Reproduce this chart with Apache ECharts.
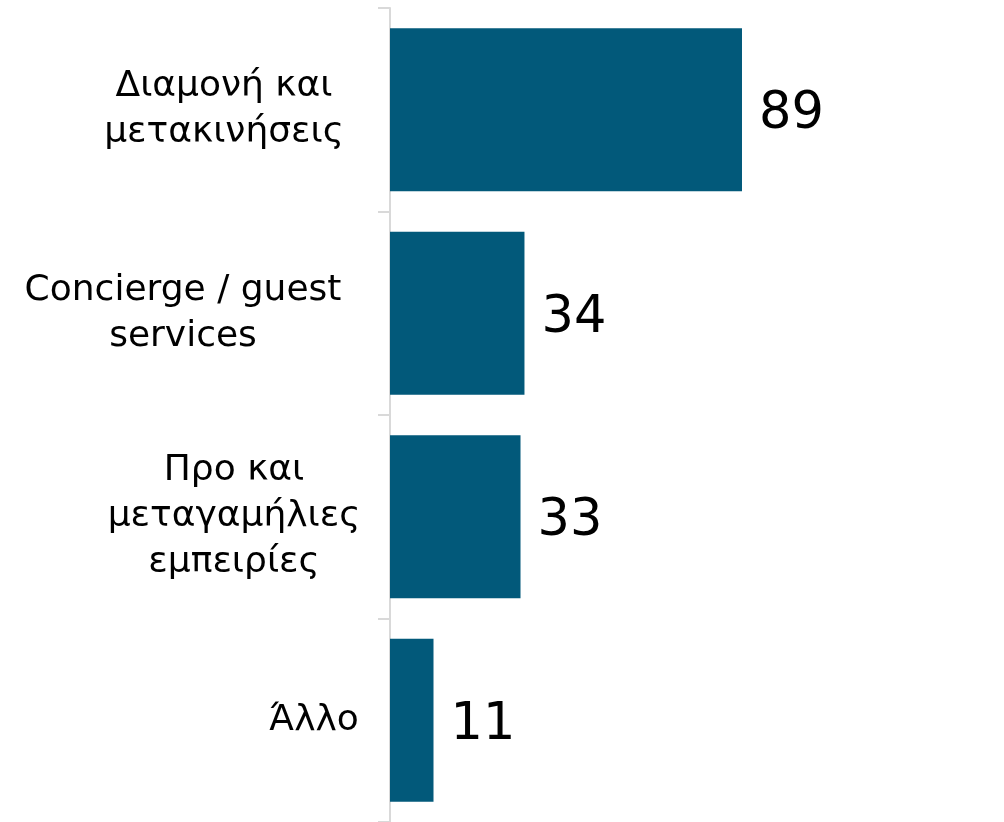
<!DOCTYPE html>
<html>
<head>
<meta charset="utf-8">
<script src="https://cdn.jsdelivr.net/npm/echarts@6/dist/echarts.min.js"></script>
<style>
html,body{margin:0;padding:0;background:#fff;}
#c{width:1004px;height:822px;}
</style>
</head>
<body>
<div id="c"></div>
<script>
const categories = [
  "Διαμονή και\nμετακινήσεις",
  "Concierge / guest\nservices",
  "Προ και\nμεταγαμήλιες\nεμπειρίες",
  "Άλλο"
];
const values = [89, 34, 33, 11];

const labelBoxWidths = [260, 342, 240, 80];

const rich = {};
labelBoxWidths.forEach(function (w, i) {
  rich['c' + i] = {
    width: w, align: 'center', fontSize: 36, lineHeight: 46,
    fontFamily: 'DejaVu Sans', color: '#000'
  };
});

const chart = echarts.init(document.getElementById('c'), null, {renderer: 'canvas'});
chart.setOption({
  animation: false,
  backgroundColor: '#fff',
  grid: {left: 390, top: 8, width: 395.5, height: 816, containLabel: false},
  xAxis: {
    type: 'value', min: 0, max: 100, show: false
  },
  yAxis: {
    type: 'category',
    inverse: true,
    offset: 2,
    data: categories,
    axisLine: {show: true, lineStyle: {color: '#D9D9D9', width: 2}},
    axisTick: {show: true, length: 12, lineStyle: {color: '#D9D9D9', width: 2}},
    axisLabel: {
      margin: 34,
      align: 'right',
      formatter: function (v, idx) {
        return v.split('\n').map(function (l) { return '{c' + idx + '|' + l + '}'; }).join('\n');
      },
      rich: rich
    }
  },
  series: [{
    type: 'bar',
    data: values,
    barCategoryGap: '20%',
    itemStyle: {color: '#02597A'},
    label: {
      show: true, position: 'right', distance: 17, offset: [0, 5],
      fontFamily: 'DejaVu Sans', fontSize: 51, color: '#000'
    }
  }]
});
</script>
</body>
</html>
